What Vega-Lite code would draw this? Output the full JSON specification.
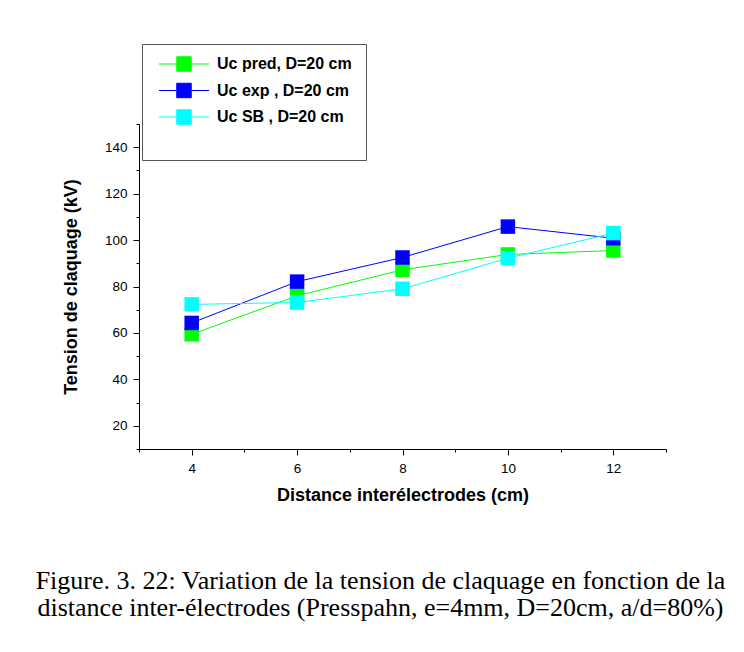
{
  "$schema": "https://vega.github.io/schema/vega-lite/v6.json",
  "autosize": "none",
  "width": 527,
  "height": 325,
  "padding": {"left": 139, "top": 124, "right": 78, "bottom": 203},
  "background": "white",
  "config": {
    "view": {"stroke": null},
    "axis": {
      "domainColor": "black",
      "tickColor": "black",
      "labelColor": "black",
      "titleColor": "black",
      "labelFont": "Liberation Sans",
      "titleFont": "Liberation Sans",
      "labelFontSize": 13.5,
      "titleFontSize": 18,
      "titleFontWeight": "bold",
      "grid": false
    }
  },
  "title": {
    "text": [
      "Figure. 3. 22: Variation de la tension de claquage en fonction de la",
      "distance inter-électrodes (Presspahn, e=4mm, D=20cm, a/d=80%)"
    ],
    "orient": "bottom",
    "anchor": "middle",
    "frame": "group",
    "font": "Liberation Serif",
    "fontSize": 26,
    "fontWeight": "normal",
    "color": "black",
    "lineHeight": 27.5,
    "offset": 63,
    "dx": -22
  },
  "data": {
    "values": [
      {"distance": 4, "tension": 59.4, "serie": "Uc pred, D=20 cm"},
      {"distance": 6, "tension": 76.0, "serie": "Uc pred, D=20 cm"},
      {"distance": 8, "tension": 87.2, "serie": "Uc pred, D=20 cm"},
      {"distance": 10, "tension": 93.8, "serie": "Uc pred, D=20 cm"},
      {"distance": 12, "tension": 95.5, "serie": "Uc pred, D=20 cm"},
      {"distance": 4, "tension": 64.3, "serie": "Uc exp ,  D=20 cm"},
      {"distance": 6, "tension": 82.1, "serie": "Uc exp ,  D=20 cm"},
      {"distance": 8, "tension": 92.5, "serie": "Uc exp ,  D=20 cm"},
      {"distance": 10, "tension": 105.8, "serie": "Uc exp ,  D=20 cm"},
      {"distance": 12, "tension": 100.8, "serie": "Uc exp ,  D=20 cm"},
      {"distance": 4, "tension": 72.3, "serie": "Uc SB ,  D=20 cm"},
      {"distance": 6, "tension": 73.1, "serie": "Uc SB ,  D=20 cm"},
      {"distance": 8, "tension": 79.0, "serie": "Uc SB ,  D=20 cm"},
      {"distance": 10, "tension": 92.2, "serie": "Uc SB ,  D=20 cm"},
      {"distance": 12, "tension": 103.0, "serie": "Uc SB ,  D=20 cm"}
    ]
  },
  "encoding": {
    "x": {
      "field": "distance",
      "type": "quantitative",
      "scale": {"domain": [3, 13], "nice": false, "zero": false},
      "axis": {
        "title": "Distance interélectrodes (cm)",
        "values": [3, 4, 5, 6, 7, 8, 9, 10, 11, 12, 13],
        "labelExpr": "datum.value % 2 === 0 ? datum.label : ''",
        "tickSize": {"condition": {"test": "datum.value % 2 === 0", "value": 6}, "value": 3},
        "labelPadding": 6,
        "titlePadding": 12,
        "labelFlush": false,
        "labelOverlap": false
      }
    },
    "y": {
      "field": "tension",
      "type": "quantitative",
      "scale": {"domain": [10, 150], "nice": false, "zero": false},
      "axis": {
        "title": "Tension de claquage (kV)",
        "values": [10, 20, 30, 40, 50, 60, 70, 80, 90, 100, 110, 120, 130, 140, 150],
        "labelExpr": "datum.value % 20 === 0 ? datum.label : ''",
        "tickSize": {"condition": {"test": "datum.value % 20 === 0", "value": 6}, "value": 3},
        "labelPadding": 6,
        "titlePadding": 24,
        "labelFlush": false,
        "labelOverlap": false
      }
    },
    "color": {
      "field": "serie",
      "type": "nominal",
      "sort": null,
      "scale": {
        "domain": ["Uc pred, D=20 cm", "Uc exp ,  D=20 cm", "Uc SB ,  D=20 cm"],
        "range": ["#00ff00", "#0000ff", "#00ffff"]
      },
      "legend": {
        "title": " ",
        "titleOrient": "bottom",
        "titleFontSize": 12,
        "titlePadding": 11,
        "orient": "none",
        "legendX": 3,
        "legendY": -80,
        "padding": 12,
        "strokeColor": "#555555",
        "fillColor": "white",
        "labelFont": "Liberation Sans",
        "labelFontSize": 16,
        "labelFontWeight": "bold",
        "labelColor": "black",
        "labelLimit": 400,
        "rowPadding": 6.5,
        "symbolType": "M-3.45,0H-1M1,0H3.45M-1,-1H1V1H-1Z",
        "symbolSize": 210,
        "symbolOffset": 22,
        "labelOffset": 25,
        "encode": {
          "symbols": {
            "update": {
              "fill": {"scale": "color", "field": "value"},
              "stroke": {"scale": "color", "field": "value"},
              "strokeWidth": {"value": 1},
              "opacity": {"value": 1}
            }
          }
        }
      }
    }
  },
  "layer": [
    {
      "mark": {"type": "line", "strokeWidth": 1}
    },
    {
      "mark": {"type": "point", "shape": "square", "filled": true, "size": 210, "opacity": 1}
    }
  ]
}
